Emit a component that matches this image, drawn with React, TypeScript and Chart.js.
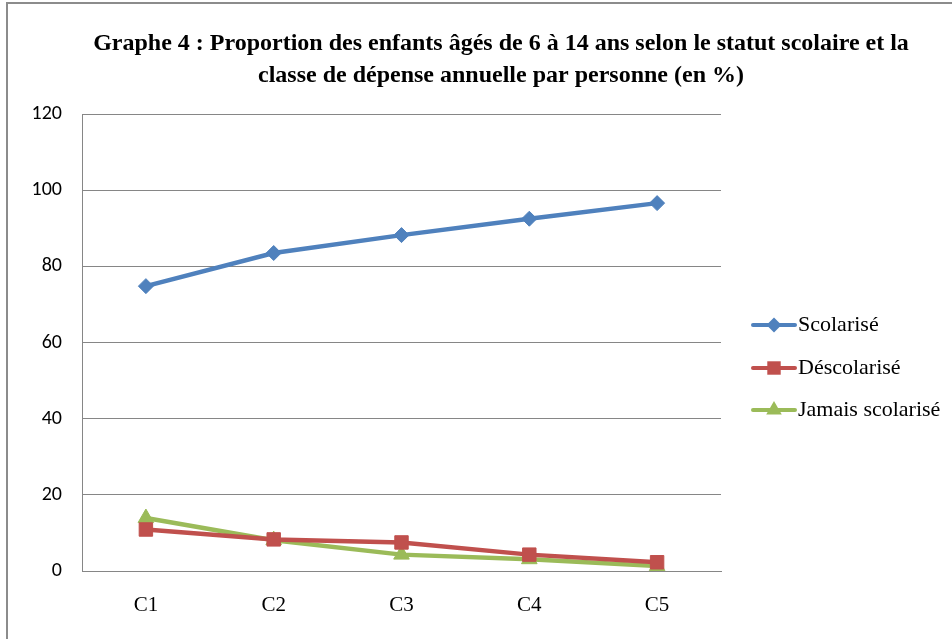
import React, { useEffect, useRef } from "react";
import { Chart, registerables } from "chart.js";

Chart.register(...registerables);

const categories = ["C1", "C2", "C3", "C4", "C5"];
const scolarise = [74.8, 83.5, 88.2, 92.5, 96.6];
const descolarise = [10.9, 8.3, 7.5, 4.3, 2.3];
const jamaisScolarise = [13.9, 8.1, 4.3, 3.1, 1.3];
const seriesNames = ["Scolarisé", "Déscolarisé", "Jamais scolarisé"];
const titleLines = [
  "Graphe 4 : Proportion des enfants âgés de 6 à 14 ans selon le statut scolaire et la",
  "classe de dépense annuelle par personne (en %)",
];
const yTicks = [0, 20, 40, 60, 80, 100, 120];

const COLORS = ["#4F81BD", "#C0504D", "#9BBB59"];
const STYLES = ["rectRot", "rect", "triangle"];
const RADII = [7.5, 9.5, 9];

function marker(ctx: CanvasRenderingContext2D, style: string, r: number, x: number, y: number) {
  ctx.beginPath();
  if (style === "rectRot") {
    ctx.moveTo(x, y - r);
    ctx.lineTo(x + r, y);
    ctx.lineTo(x, y + r);
    ctx.lineTo(x - r, y);
  } else if (style === "rect") {
    const s = r * Math.SQRT1_2;
    ctx.rect(x - s, y - s, 2 * s, 2 * s);
  } else {
    ctx.moveTo(x, y - r);
    ctx.lineTo(x + r * 0.866, y + r * 0.5);
    ctx.lineTo(x - r * 0.866, y + r * 0.5);
  }
  ctx.closePath();
  ctx.fill();
}

const decorPlugin = {
  id: "decor",
  beforeDraw(chart: any) {
    const ctx = chart.ctx;
    ctx.save();
    ctx.fillStyle = "#ffffff";
    ctx.fillRect(0, 0, chart.width, chart.height);
    ctx.strokeStyle = "#8c8c8c";
    ctx.lineWidth = 2;
    ctx.strokeRect(7, 3, chart.width + 20, chart.height + 20);
    ctx.restore();
  },
  afterDraw(chart: any) {
    const ctx = chart.ctx;
    ctx.save();
    ctx.fillStyle = "#000";
    ctx.font = "bold 24px 'Liberation Serif', 'Times New Roman', serif";
    ctx.textAlign = "center";
    ctx.textBaseline = "middle";
    titleLines.forEach((t, i) => ctx.fillText(t, 501, 44 + i * 32));
    const ys = [325, 368, 410];
    chart.data.datasets.forEach((ds: any, i: number) => {
      const y = ys[i];
      ctx.strokeStyle = ds.borderColor;
      ctx.lineWidth = 4;
      ctx.lineCap = "round";
      ctx.beginPath();
      ctx.moveTo(753, y);
      ctx.lineTo(795, y);
      ctx.stroke();
      ctx.fillStyle = ds.backgroundColor;
      marker(ctx, STYLES[i], RADII[i], 774, y);
      ctx.fillStyle = "#000";
      ctx.font = "22px 'Liberation Serif', 'Times New Roman', serif";
      ctx.textAlign = "left";
      ctx.textBaseline = "middle";
      ctx.fillText(ds.label, 798, y);
    });
    ctx.restore();
  },
};

export default function App() {
  const ref = useRef<HTMLCanvasElement>(null);
  useEffect(() => {
    document.body.style.margin = "0";
    const series = [scolarise, descolarise, jamaisScolarise];
    const chart = new Chart(ref.current as HTMLCanvasElement, {
      type: "line",
      data: {
        labels: categories,
        datasets: series.map((d, i) => ({
          label: seriesNames[i],
          data: d,
          borderColor: COLORS[i],
          backgroundColor: COLORS[i],
          borderWidth: 4.5,
          pointStyle: STYLES[i] as any,
          pointRadius: RADII[i],
          pointHoverRadius: RADII[i],
          pointBorderWidth: 1,
          tension: 0,
        })),
      },
      options: {
        animation: false,
        responsive: false,
        events: [],
        layout: { padding: { top: 114, right: 231, left: 0, bottom: 0 } },
        plugins: {
          legend: { display: false },
          title: { display: false },
          tooltip: { enabled: false },
        },
        scales: {
          x: {
            offset: true,
            grid: { display: false, drawTicks: false },
            border: { display: true, color: "#868686", width: 1 },
            ticks: {
              padding: 22,
              color: "#000",
              font: { family: "'Liberation Serif', 'Times New Roman', serif", size: 21 },
            },
            afterFit(s: any) {
              s.height = 68;
            },
          },
          y: {
            min: 0,
            max: 120,
            afterBuildTicks(s: any) {
              s.ticks = yTicks.map((v) => ({ value: v }));
            },
            grid: { color: "#868686", drawTicks: false, lineWidth: 1 },
            border: { display: true, color: "#868686", width: 1 },
            ticks: {
              padding: 20,
              color: "#000",
              font: { family: "Carlito, Calibri, 'Liberation Sans Narrow', 'DejaVu Sans Condensed', sans-serif", size: 20 },
            },
            afterFit(s: any) {
              s.width = 82;
            },
          },
        },
      },
      plugins: [decorPlugin],
    });
    return () => chart.destroy();
  }, []);
  return (
    <div style={{ position: "absolute", left: 0, top: 0, width: 952, height: 639 }}>
      <canvas ref={ref} width={952} height={639} style={{ width: 952, height: 639, display: "block" }} />
    </div>
  );
}
